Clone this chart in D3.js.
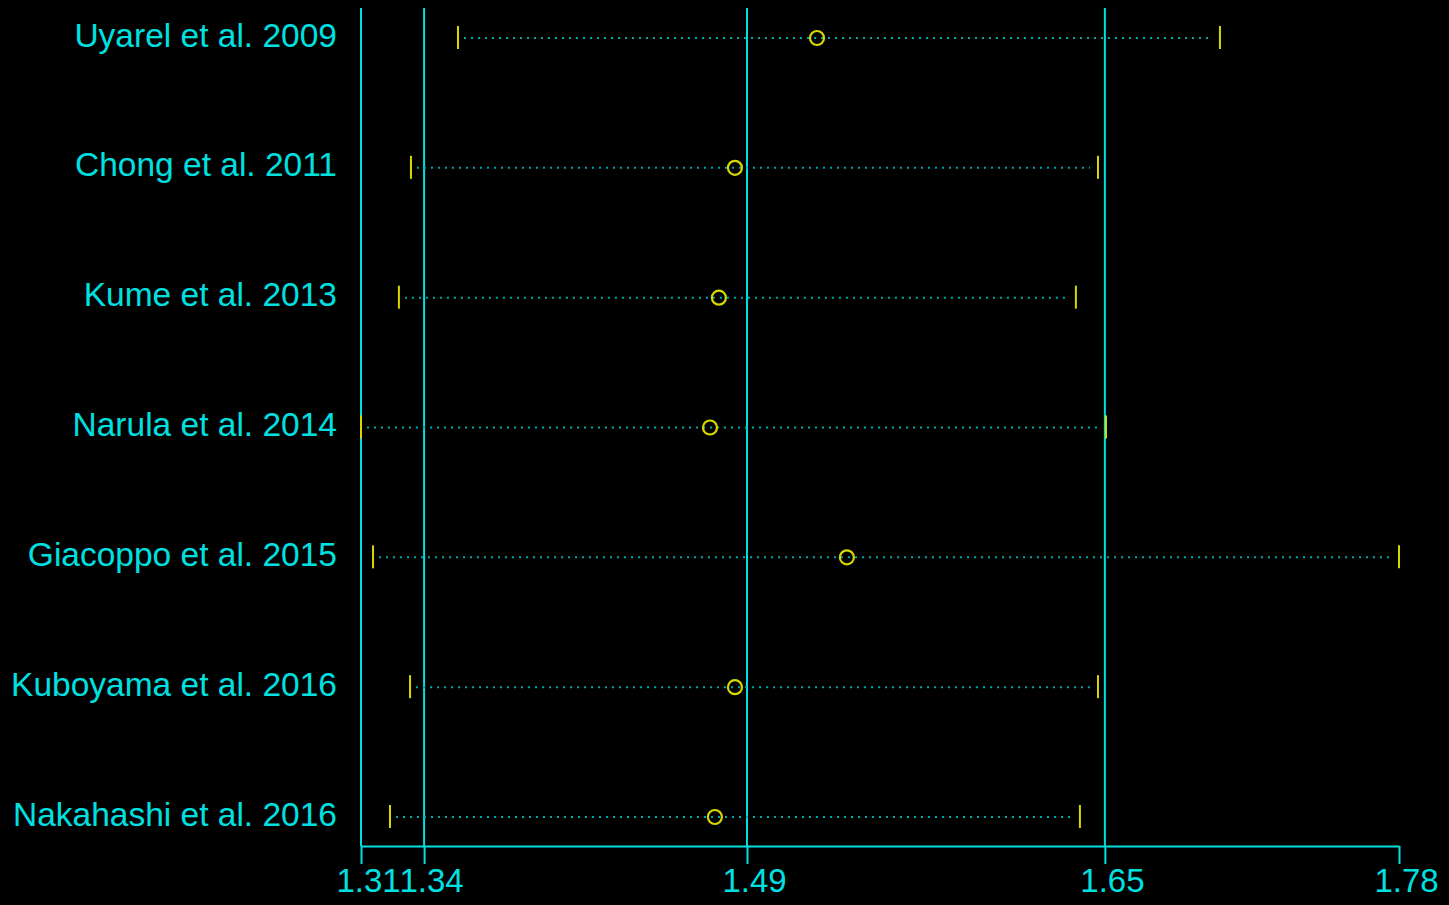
<!DOCTYPE html>
<html>
<head>
<meta charset="utf-8">
<script src="https://cdn.jsdelivr.net/npm/d3@7"></script>
<style>
  html, body { margin: 0; padding: 0; background: #000; }
  svg { display: block; }
</style>
</head>
<body>
<div id="chart"></div>
<script>
// Study omitted (one row each)
const studies = [
  "Uyarel et al. 2009",
  "Chong et al. 2011",
  "Kume et al. 2013",
  "Narula et al. 2014",
  "Giacoppo et al. 2015",
  "Kuboyama et al. 2016",
  "Nakahashi et al. 2016"
];
// Estimates and CI limits
const estimate = [1.5185, 1.4817, 1.4745, 1.4705, 1.5319, 1.4817, 1.4727];
const lower    = [1.3575, 1.3364, 1.3310, 1.3140, 1.3194, 1.3360, 1.3270];
const upper    = [1.6992, 1.6445, 1.6346, 1.6481, 1.7795, 1.6445, 1.6364];

// Axis ticks: min, combined lower CI, combined estimate, upper CI, max
const tickValues = [1.3140, 1.3423, 1.4871, 1.6476, 1.7795];
const tickLabels = ["1.31", "1.34", "1.49", "1.65", "1.78"];
// vertical reference lines
const refLines = [1.3140, 1.3423, 1.4871, 1.6476];

const W = 1449, H = 905;
const plotLeft = 361, plotRight = 1399, plotTop = 8, axisY = 846;

const cyan = "#00e0e0";
const yellow = "#d8d800";
const dotCol = "#00a8a8";

const svg = d3.select("#chart").append("svg")
  .attr("width", W).attr("height", H)
  .style("background", "#000");

const x = d3.scaleLinear()
  .domain([tickValues[0], tickValues[tickValues.length - 1]])
  .range([plotLeft, plotRight]);

const y = d3.scalePoint()
  .domain(studies)
  .range([38, 817]);

// reference lines
svg.selectAll("line.ref")
  .data(refLines)
  .enter().append("line")
  .attr("class", "ref")
  .attr("x1", d => x(d)).attr("x2", d => x(d))
  .attr("y1", plotTop).attr("y2", axisY)
  .attr("stroke", cyan).attr("stroke-width", 2);

// x axis
const xAxis = d3.axisBottom(x)
  .tickValues(tickValues)
  .tickFormat((d, i) => tickLabels[i])
  .tickSize(18)
  .tickPadding(5)
  .tickSizeOuter(0);

const ax = svg.append("g")
  .attr("transform", `translate(0,${axisY})`)
  .call(xAxis);
ax.select(".domain").attr("stroke", cyan).attr("stroke-width", 2);
ax.selectAll(".tick line").attr("stroke", cyan).attr("stroke-width", 2);
ax.selectAll(".tick text")
  .attr("fill", cyan)
  .attr("dx", 7)
  .attr("font-family", "Arial, 'Liberation Sans', sans-serif")
  .attr("font-size", 33);

const rows = studies.map((s, i) => ({ s, est: estimate[i], lo: lower[i], hi: upper[i] }));

// dotted CI lines
svg.selectAll("line.ci")
  .data(rows)
  .enter().append("line")
  .attr("class", "ci")
  .attr("x1", d => x(d.lo) + 6).attr("x2", d => x(d.hi) - 8)
  .attr("y1", d => y(d.s)).attr("y2", d => y(d.s))
  .attr("stroke", dotCol).attr("stroke-width", 2)
  .attr("stroke-dasharray", "2,5");

// CI end marks
["lo", "hi"].forEach(k => {
  svg.selectAll("line.end-" + k)
    .data(rows)
    .enter().append("line")
    .attr("class", "end-" + k)
    .attr("x1", d => x(d[k])).attr("x2", d => x(d[k]))
    .attr("y1", d => y(d.s) - 12).attr("y2", d => y(d.s) + 11)
    .attr("stroke", yellow).attr("stroke-width", 2);
});

// estimates
svg.selectAll("circle")
  .data(rows)
  .enter().append("circle")
  .attr("cx", d => x(d.est))
  .attr("cy", d => y(d.s))
  .attr("r", 7)
  .attr("fill", "none")
  .attr("stroke", yellow).attr("stroke-width", 2.2);

// study labels
svg.selectAll("text.study")
  .data(studies)
  .enter().append("text")
  .attr("class", "study")
  .attr("x", 337)
  .attr("y", d => y(d) - 3)
  .attr("text-anchor", "end")
  .attr("dominant-baseline", "central")
  .attr("fill", cyan)
  .attr("font-family", "Arial, 'Liberation Sans', sans-serif")
  .attr("font-size", 33.5)
  .text(d => d);
</script>
</body>
</html>
